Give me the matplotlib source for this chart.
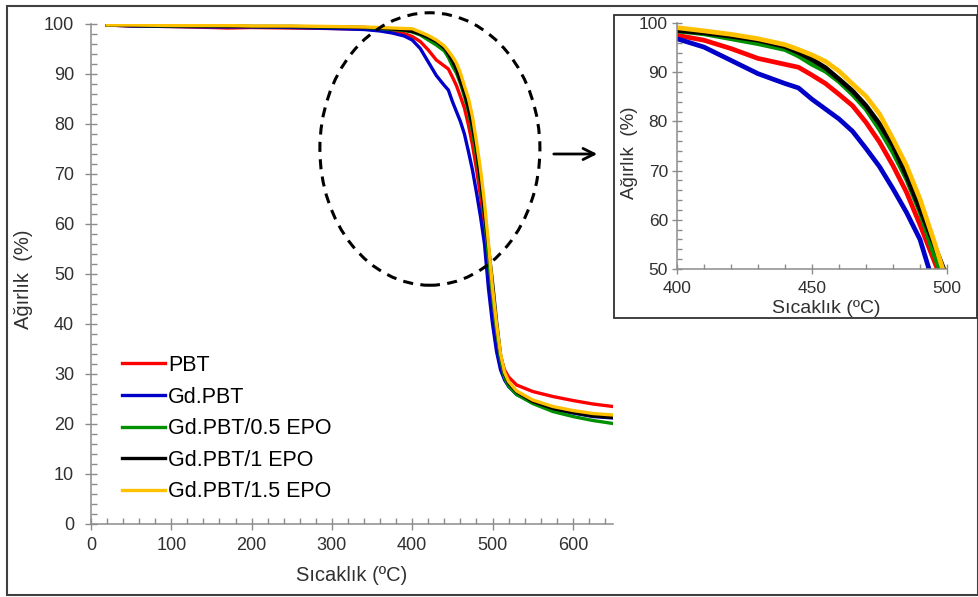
import matplotlib.pyplot as plt
from matplotlib.patches import Ellipse, Rectangle
from matplotlib.ticker import MultipleLocator

plt.rcParams['font.family'] = ['Liberation Sans', 'DejaVu Sans']

# temperature grid (°C)
temp = [20, 50, 100, 150, 170, 200, 250, 300, 340, 360, 375, 390,
        400, 410, 420, 430, 440, 445, 450, 455, 460, 465, 470, 475, 480, 485, 490, 495,
        500, 505, 510, 515, 520, 530, 550, 575, 600, 625, 650]

# weight (%) per sample
pbt = [99.8, 99.6, 99.5, 99.3, 99.2, 99.3, 99.2, 99.1, 99.0, 98.8, 98.5, 98.1,
       97.5, 96.5, 94.8, 92.8, 91.6, 91.0, 89.4, 87.7, 85.5, 83.2, 79.8, 75.8, 71.0, 65.6, 59.0, 52.0,
       45.0, 38.5, 33.5, 30.8, 29.4, 27.8, 26.5, 25.5, 24.7, 24.0, 23.5]
gd_pbt = [99.8, 99.6, 99.5, 99.4, 99.4, 99.4, 99.3, 99.1, 98.9, 98.6, 98.2, 97.6,
          96.8, 95.1, 92.4, 89.7, 87.7, 86.8, 84.5, 82.5, 80.5, 78.0, 74.5, 70.8, 66.3, 61.5, 56.0, 47.0,
          40.0, 34.5, 30.8, 28.8, 27.5, 25.9, 24.3, 23.0, 22.2, 21.5, 21.2]
epo_05 = [99.8, 99.7, 99.6, 99.6, 99.6, 99.5, 99.5, 99.4, 99.3, 99.1, 98.9, 98.7,
          98.4, 97.8, 96.8, 95.8, 94.6, 93.3, 91.6, 90.2, 88.1, 85.5, 82.5, 78.4, 73.7, 68.3, 61.6, 53.2,
          46.0, 39.0, 33.0, 29.3, 27.6, 25.9, 24.1, 22.5, 21.5, 20.7, 20.1]
epo_1 = [99.8, 99.7, 99.6, 99.6, 99.6, 99.5, 99.5, 99.4, 99.3, 99.2, 99.0, 98.8,
         98.5, 98.0, 97.3, 96.5, 95.2, 94.0, 92.6, 90.9, 88.6, 86.2, 83.2, 79.5, 75.1, 69.0, 62.2, 55.3,
         48.3, 40.5, 33.8, 30.0, 28.2, 26.4, 24.5, 23.1, 22.3, 21.6, 21.3]
epo_15 = [99.8, 99.8, 99.7, 99.7, 99.7, 99.6, 99.6, 99.5, 99.4, 99.3, 99.2, 99.1,
          99.05, 98.4, 97.7, 96.8, 95.6, 94.6, 93.5, 92.2, 90.2, 87.6, 85.1, 81.5, 76.4, 71.0, 64.2, 56.0,
          47.2, 40.0, 34.0, 30.3, 28.5, 26.6, 24.8, 23.5, 22.7, 22.1, 21.8]

series = [(pbt, 'PBT', '#ff0000'),
          (gd_pbt, 'Gd.PBT', '#0000c8'),
          (epo_05, 'Gd.PBT/0.5 EPO', '#009000'),
          (epo_1, 'Gd.PBT/1 EPO', '#000000'),
          (epo_15, 'Gd.PBT/1.5 EPO', '#ffc000')]

W, H = 979, 597
fig = plt.figure(figsize=(W / 100, H / 100), dpi=100)

# outer frame and inset frame
fig.add_artist(Rectangle((7 / W, 1 - 595 / H), 971 / W, 589 / H, transform=fig.transFigure,
                         fill=False, edgecolor='#404040', linewidth=1.5))
fig.add_artist(Rectangle((614 / W, 1 - 318 / H), 363 / W, 303 / H, transform=fig.transFigure,
                         fill=False, edgecolor='#303030', linewidth=1.3))

spine_col = '#8c8c8c'
text_col = '#303030'


def style_axes(a, size, lsize):
    for s in ['top', 'right']:
        a.spines[s].set_visible(False)
    for s in ['left', 'bottom']:
        a.spines[s].set_color(spine_col)
        a.spines[s].set_linewidth(1.1)
    a.tick_params(which='major', direction='inout', length=size, width=1, color=spine_col,
                  labelsize=lsize, labelcolor=text_col)
    a.tick_params(which='minor', direction='in', length=size / 2, width=1, color=spine_col)


# main chart
ax = fig.add_axes([91 / W, 1 - 524 / H, 522 / W, 500 / H])
for vals, name, col in series:
    ax.plot(temp, vals, color=col, lw=2.4, label=name)
ax.set_xlim(0, 650)
ax.set_ylim(0, 100)
ax.set_xticks(range(0, 601, 100))
ax.set_yticks(range(0, 101, 10))
ax.xaxis.set_minor_locator(MultipleLocator(20))
ax.yaxis.set_minor_locator(MultipleLocator(2))
style_axes(ax, 8.5, 13)
ax.tick_params(axis='y', which='major', pad=8)
ax.tick_params(axis='x', which='major', pad=5)
ax.set_xlabel('Sıcaklık (ºC)', fontsize=14.5, color=text_col)
ax.set_ylabel('Ağırlık  (%)', fontsize=14.5, color=text_col)
ax.xaxis.set_label_coords(0.5, -0.084)
ax.yaxis.set_label_coords(-0.111, 0.49)

ax.legend(loc='upper left', bbox_to_anchor=(0.059, 0.338), frameon=False, fontsize=15.5,
          handlelength=2.0, handletextpad=0.15, labelspacing=0.49, borderpad=0, borderaxespad=0)

ax.add_patch(Ellipse((422, 75), 274, 54.5, fill=False, edgecolor='black', lw=2.2,
                     linestyle=(0, (3.3, 2.4)), clip_on=False, zorder=5))

ax.annotate('', xy=(600 / W, 1 - 154 / H), xytext=(551 / W, 1 - 154 / H),
            xycoords='figure fraction', textcoords='figure fraction',
            arrowprops=dict(arrowstyle='->', lw=2, color='black', mutation_scale=20))

# inset (zoom of the decomposition step)
axi = fig.add_axes([677 / W, 1 - 269 / H, 270 / W, 246 / H])
for vals, name, col in series:
    axi.plot(temp, vals, color=col, lw=3.4)
axi.set_xlim(400, 500)
axi.set_ylim(50, 100)
axi.set_xticks([400, 450, 500])
axi.set_yticks(range(50, 101, 10))
axi.xaxis.set_minor_locator(MultipleLocator(10))
axi.yaxis.set_minor_locator(MultipleLocator(2))
style_axes(axi, 7, 12.5)
axi.tick_params(axis='y', which='major', pad=3)
axi.tick_params(axis='x', which='major', pad=5)
axi.set_xlabel('Sıcaklık (ºC)', fontsize=14, color=text_col)
axi.set_ylabel('Ağırlık  (%)', fontsize=13.5, color=text_col)
axi.xaxis.set_label_coords(0.554, -0.125)
axi.yaxis.set_label_coords(-0.144, 0.474)

fig.savefig('out.png', dpi=100)
